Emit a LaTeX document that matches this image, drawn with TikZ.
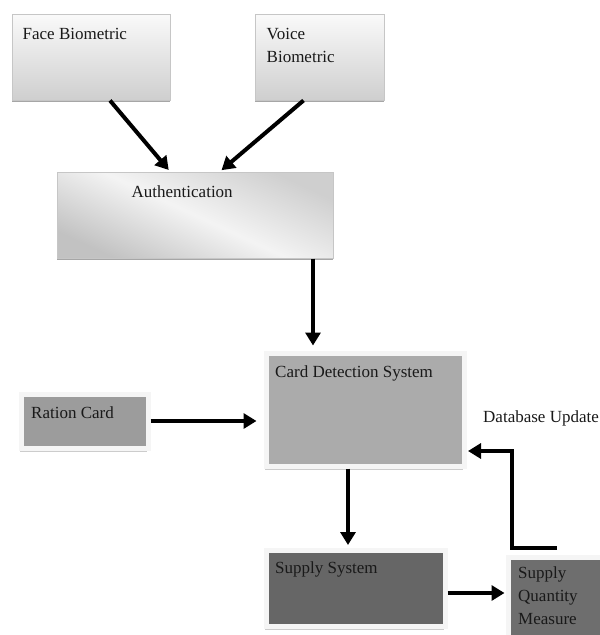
\documentclass[tikz,border=0pt]{standalone}
\usepackage{fontspec}
\setmainfont{Liberation Serif}
\usetikzlibrary{arrows.meta, positioning, shadows}

\begin{document}
\begin{tikzpicture}
	[
	x=1pt, y=-1pt,																	%Pixelraster, y nach unten
	GradBox/.style={rectangle, inner sep=0pt, draw=gray!45, line width=1pt,
		top color=gray!4, bottom color=gray!38,
		drop shadow={shadow xshift=-0.5pt, shadow yshift=-2pt, fill=gray!70, opacity=1}},	%Kasten mit Verlauf
	FlatBox/.style={rectangle, inner sep=0pt, draw=gray!8, line width=5pt,
		drop shadow={shadow xshift=-1.5pt, shadow yshift=-4pt, fill=gray!40, opacity=1}},	%Kasten mit hellem Rand
	BoxText/.style={inner sep=0pt, anchor=base west, align=left, text=black!90,
		font=\fontsize{17}{23}\selectfont},												%Beschriftung (base = letzte Zeile)
	FlowArrow/.style={-{Triangle[length=13pt,width=15pt]}, line width=4pt}				%Pfeile
	]

	%% Bildgroesse festlegen %%
	\useasboundingbox (0,0) rectangle (600,635);

	%%%%%%%%%%%%%%%%%%%%%%%% Kaesten %%%%%%%%%%%%%%%%%%%%%%%%
	\node[GradBox, minimum width=158pt, minimum height=86pt] (face)  at (91,57)    {};
	\node[GradBox, minimum width=129pt, minimum height=86pt] (voice) at (319.5,57) {};
	\node[GradBox, minimum width=276pt, minimum height=86pt, top color=gray!38, bottom color=gray!48,
		middle color=gray!9, shading angle=-25] (auth) at (195,215) {};
	\node[FlatBox, fill=gray!78, minimum width=127pt, minimum height=54pt]  (ration) at (84.5,421)  {};
	\node[FlatBox, fill=gray!66, minimum width=198pt, minimum height=113pt] (card)   at (365,409.5) {};
	\node[FlatBox, fill=black!60, minimum width=179pt, minimum height=76pt] (supply) at (355.5,588) {};
	\node[FlatBox, fill=black!57, minimum width=98pt, minimum height=86pt]  (sqm)    at (557,600)   {};

	% Beschriftung der Kaesten
	\node[BoxText] (faceTxt)   at ([shift={(11,26)}]face.north west)     {Face Biometric};
	\node[BoxText] (voiceTxt)  at ([shift={(12,49)}]voice.north west)    {Voice\\Biometric};
	\node[BoxText] (authTxt)   at ([shift={(75,26)}]auth.north west)     {Authentication};
	\node[BoxText] (rationTxt) at ([shift={(12.5,26.5)}]ration.north west) {Ration Card};
	\node[BoxText] (cardTxt)   at ([shift={(11.5,26.5)}]card.north west) {Card Detection System};
	\node[BoxText] (supplyTxt) at ([shift={(11.5,25.5)}]supply.north west) {Supply System};
	\node[BoxText] (sqmTxt)    at ([shift={(12.5,69.5)}]sqm.north west)  {Supply\\Quantity\\Measure};
	\node[BoxText] (dbTxt)     at ([shift={(16.5,12.5)}]card.east)       {Database Update};

	%%%%%%%%%%%%%%%%%%%%%%%% Pfeile %%%%%%%%%%%%%%%%%%%%%%%%
	\draw[FlowArrow, shorten >=2pt] ([xshift=19pt]face.south)   -- ([xshift=-25pt]auth.north);
	\draw[FlowArrow, shorten >=2pt] ([xshift=-16pt]voice.south) -- ([xshift=25pt]auth.north);
	\draw[FlowArrow, shorten >=5pt] ([xshift=118pt]auth.south)  -- ([xshift=118pt]auth.south |- card.north);
	\draw[FlowArrow, shorten >=7pt] (ration.east) -- (ration.east -| card.west);
	\draw[FlowArrow, shorten >=2.5pt] ([xshift=-17pt]card.south) -- ([xshift=-17pt]card.south |- supply.north);
	\draw[FlowArrow, shorten >=1pt] ([yshift=-5pt]supply.east) -- ([yshift=-5pt]supply.east -| sqm.west);
	% Rueckfuehrung (Datenbank)
	\coordinate (fbStart) at ([yshift=7pt]sqm.north);
	\coordinate (fbKnee)  at ([shift={(45.5,41.5)}]card.east);
	\draw[FlowArrow, shorten >=1.5pt] (fbStart) -| (fbKnee) -- (fbKnee -| card.east);
\end{tikzpicture}
\end{document}
